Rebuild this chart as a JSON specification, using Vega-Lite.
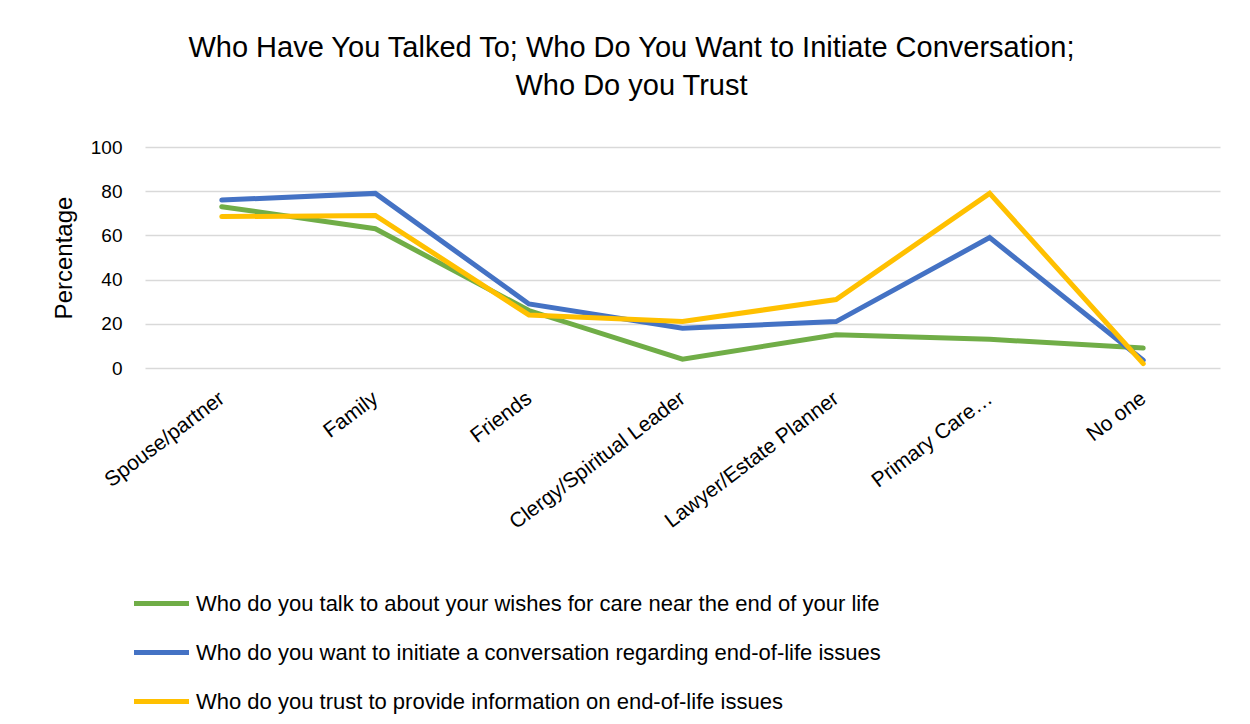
{
  "$schema": "https://vega.github.io/schema/vega-lite/v6.json",
  "autosize": {"type": "none"},
  "padding": {"left": 145, "top": 147, "right": 30, "bottom": 356},
  "width": 1075,
  "height": 221,
  "background": "white",
  "title": {
    "text": ["Who Have You Talked To; Who Do You Want to Initiate Conversation;", "Who Do you Trust"],
    "font": "Liberation Sans",
    "fontSize": 29,
    "fontWeight": "normal",
    "color": "#000000",
    "lineHeight": 38,
    "anchor": "middle",
    "dx": -51,
    "offset": 37
  },
  "data": {
    "values": [
      {"category": "Spouse/partner", "series": "Who do you talk to about your wishes for care near the end of your life", "value": 73},
      {"category": "Family", "series": "Who do you talk to about your wishes for care near the end of your life", "value": 63},
      {"category": "Friends", "series": "Who do you talk to about your wishes for care near the end of your life", "value": 26},
      {"category": "Clergy/Spiritual Leader", "series": "Who do you talk to about your wishes for care near the end of your life", "value": 4},
      {"category": "Lawyer/Estate Planner", "series": "Who do you talk to about your wishes for care near the end of your life", "value": 15},
      {"category": "Primary Care…", "series": "Who do you talk to about your wishes for care near the end of your life", "value": 13},
      {"category": "No one", "series": "Who do you talk to about your wishes for care near the end of your life", "value": 9},
      {"category": "Spouse/partner", "series": "Who do you want to initiate a conversation regarding end-of-life issues", "value": 76},
      {"category": "Family", "series": "Who do you want to initiate a conversation regarding end-of-life issues", "value": 79},
      {"category": "Friends", "series": "Who do you want to initiate a conversation regarding end-of-life issues", "value": 29},
      {"category": "Clergy/Spiritual Leader", "series": "Who do you want to initiate a conversation regarding end-of-life issues", "value": 18},
      {"category": "Lawyer/Estate Planner", "series": "Who do you want to initiate a conversation regarding end-of-life issues", "value": 21},
      {"category": "Primary Care…", "series": "Who do you want to initiate a conversation regarding end-of-life issues", "value": 59},
      {"category": "No one", "series": "Who do you want to initiate a conversation regarding end-of-life issues", "value": 3.5},
      {"category": "Spouse/partner", "series": "Who do you trust to provide information on end-of-life issues", "value": 68.5},
      {"category": "Family", "series": "Who do you trust to provide information on end-of-life issues", "value": 69},
      {"category": "Friends", "series": "Who do you trust to provide information on end-of-life issues", "value": 24},
      {"category": "Clergy/Spiritual Leader", "series": "Who do you trust to provide information on end-of-life issues", "value": 21},
      {"category": "Lawyer/Estate Planner", "series": "Who do you trust to provide information on end-of-life issues", "value": 31},
      {"category": "Primary Care…", "series": "Who do you trust to provide information on end-of-life issues", "value": 79},
      {"category": "No one", "series": "Who do you trust to provide information on end-of-life issues", "value": 2}
    ]
  },
  "mark": {"type": "line", "strokeWidth": 5, "strokeCap": "round", "strokeJoin": "miter"},
  "encoding": {
    "x": {
      "field": "category",
      "type": "nominal",
      "sort": null,
      "scale": {"type": "point", "padding": 0.5},
      "axis": {
        "title": null,
        "labelAngle": -37,
        "labelAlign": "right",
        "labelBaseline": "middle",
        "labelFont": "Liberation Sans",
        "labelFontSize": 21,
        "labelColor": "#000000",
        "labelPadding": 28,
        "labelLimit": 400,
        "ticks": false,
        "domain": false,
        "grid": false
      }
    },
    "y": {
      "field": "value",
      "type": "quantitative",
      "scale": {"domain": [0, 100], "nice": false},
      "axis": {
        "title": "Percentage",
        "titleFont": "Liberation Sans",
        "titleFontSize": 24,
        "titleFontWeight": "normal",
        "titleColor": "#000000",
        "titlePadding": 14,
        "values": [0, 20, 40, 60, 80, 100],
        "labelFont": "Liberation Sans",
        "labelFontSize": 19,
        "labelColor": "#000000",
        "labelPadding": 23,
        "ticks": false,
        "domain": false,
        "grid": true,
        "gridColor": "#D9D9D9",
        "gridWidth": 1.5
      }
    },
    "color": {
      "field": "series",
      "type": "nominal",
      "sort": null,
      "scale": {
        "domain": [
          "Who do you talk to about your wishes for care near the end of your life",
          "Who do you want to initiate a conversation regarding end-of-life issues",
          "Who do you trust to provide information on end-of-life issues"
        ],
        "range": ["#70AD47", "#4472C4", "#FFC000"]
      },
      "legend": {
        "title": null,
        "orient": "none",
        "legendX": 3,
        "legendY": 443,
        "direction": "vertical",
        "symbolType": "M-2.5,0H2.5",
        "symbolSize": 484,
        "symbolStrokeWidth": 5,
        "labelFont": "Liberation Sans",
        "labelFontSize": 22,
        "labelColor": "#000000",
        "labelOffset": 21,
        "labelLimit": 1000,
        "rowPadding": 24
      }
    }
  },
  "config": {
    "view": {"stroke": null}
  }
}
